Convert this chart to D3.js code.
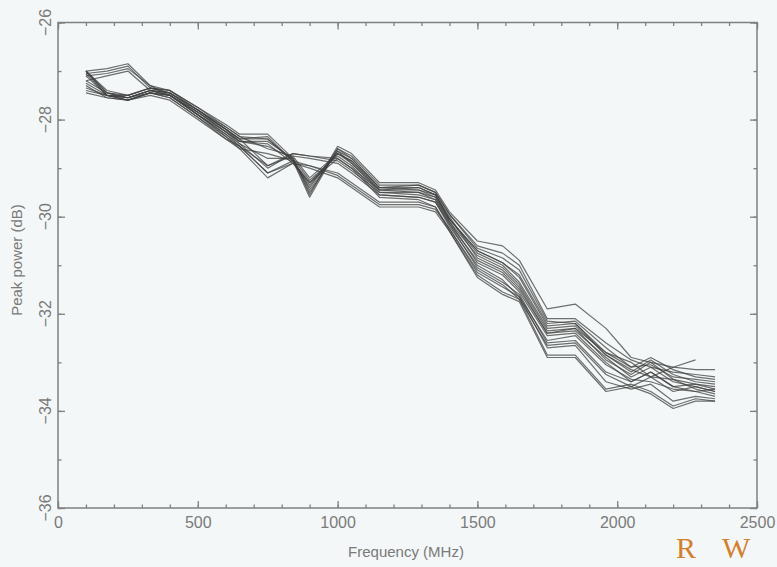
<!DOCTYPE html>
<html>
<head>
<meta charset="utf-8">
<script src="https://cdn.jsdelivr.net/npm/d3@7"></script>
<style>
  html, body { margin: 0; padding: 0; background: #f3f7f7; }
  svg { display: block; }
</style>
</head>
<body>
<svg id="chart" width="777" height="567"></svg>
<script>
// ---- Data ----
const frequencies = [100,175,250,330,400,500,600,650,750,840,900,1000,1050,1150,1290,1350,1400,1500,1590,1650,1750,1850,1960,2050,2120,2200,2280,2350];

const s1  = [-27.00,-26.95,-26.85,-27.30,-27.40,-27.75,-28.10,-28.30,-28.30,-28.80,-29.55,-28.55,-28.70,-29.30,-29.30,-29.45,-29.90,-30.50,-30.60,-30.90,-31.90,-31.80,-32.30,-32.90,-33.00,-33.10,-33.15,-33.15];
const s2  = [-27.05,-27.00,-26.90,-27.35,-27.45,-27.80,-28.15,-28.35,-28.40,-28.85,-29.40,-28.60,-28.75,-29.35,-29.35,-29.50,-29.95,-30.60,-30.75,-31.00,-32.10,-32.10,-32.60,-32.95,-33.10,-33.20,-33.25,-33.30];
const s3  = [-27.10,-27.05,-26.95,-27.30,-27.50,-27.85,-28.20,-28.40,-28.95,-28.70,-28.75,-28.80,-29.00,-29.45,-29.40,-29.55,-30.05,-30.70,-30.95,-31.25,-32.25,-32.20,-32.80,-33.10,-33.05,-33.30,-33.35,-33.40];
const s4  = [-27.20,-27.10,-27.00,-27.40,-27.50,-27.90,-28.25,-28.45,-28.50,-28.90,-29.30,-28.70,-28.85,-29.45,-29.50,-29.60,-30.10,-30.80,-31.05,-31.40,-32.35,-32.30,-32.95,-33.25,-33.00,-33.35,-33.45,-33.50];
const s5  = [-27.00,-27.45,-27.55,-27.40,-27.45,-27.80,-28.20,-28.40,-28.35,-28.85,-29.60,-28.60,-28.80,-29.40,-29.45,-29.55,-30.00,-30.85,-31.10,-31.45,-32.40,-32.35,-32.90,-33.30,-33.10,-33.40,-33.50,-33.60];
const s6  = [-27.00,-27.50,-27.60,-27.45,-27.50,-27.85,-28.25,-28.45,-28.45,-28.80,-29.50,-28.65,-28.90,-29.50,-29.55,-29.65,-30.10,-30.95,-31.20,-31.55,-32.45,-32.40,-33.00,-33.40,-33.20,-33.50,-33.45,-33.55];
const s7  = [-27.05,-27.50,-27.55,-27.40,-27.50,-27.90,-28.30,-28.50,-29.00,-28.70,-28.75,-28.85,-29.05,-29.50,-29.50,-29.65,-30.15,-30.90,-31.15,-31.50,-32.40,-32.30,-32.80,-33.00,-33.30,-33.35,-33.55,-33.65];
const s8  = [-27.10,-27.50,-27.60,-27.45,-27.55,-27.95,-28.35,-28.55,-28.95,-28.75,-28.80,-28.90,-29.10,-29.55,-29.60,-29.70,-30.20,-31.00,-31.30,-31.65,-32.55,-32.45,-33.05,-33.35,-33.40,-33.55,-33.60,-33.70];
const s9  = [-27.00,-27.45,-27.50,-27.35,-27.45,-27.80,-28.20,-28.40,-28.40,-28.85,-29.35,-28.70,-28.85,-29.40,-29.40,-29.55,-30.05,-30.75,-31.00,-31.35,-32.30,-32.25,-32.85,-33.20,-32.95,-33.25,-33.40,-33.45];
const s10 = [-27.25,-27.50,-27.55,-27.40,-27.50,-27.90,-28.35,-28.60,-29.20,-28.90,-29.00,-29.20,-29.40,-29.80,-29.80,-29.90,-30.30,-31.20,-31.55,-31.70,-32.85,-32.85,-33.55,-33.45,-33.60,-33.90,-33.75,-33.80];
const s11 = [-27.30,-27.55,-27.60,-27.45,-27.50,-27.90,-28.30,-28.55,-29.10,-28.85,-28.95,-29.15,-29.35,-29.75,-29.75,-29.85,-30.25,-31.15,-31.45,-31.65,-32.70,-32.65,-33.40,-33.55,-33.45,-33.80,-33.70,-33.75];
const s12 = [-27.35,-27.50,-27.55,-27.40,-27.45,-27.85,-28.25,-28.50,-28.80,-28.80,-29.25,-28.75,-28.95,-29.55,-29.60,-29.70,-30.15,-31.05,-31.35,-31.60,-32.60,-32.55,-33.20,-33.40,-33.20,-33.50,-33.60,-33.55];
const s13 = [-27.40,-27.50,-27.50,-27.35,-27.40,-27.75,-28.15,-28.35,-28.60,-28.75,-29.20,-28.70,-28.90,-29.45,-29.45,-29.60,-30.05,-30.70,-30.95,-31.20,-32.20,-32.15,-32.70,-33.10,-32.90,-33.15,-33.30,-33.35];
const s14 = [-27.00,-27.40,-27.50,-27.35,-27.40,-27.80,-28.20,-28.45,-28.55,-28.80,-29.45,-28.65,-28.80,-29.40,-29.35,-29.50,-29.95,-30.65,-30.85,-31.10,-32.15,-32.20,-32.85,-33.15,-33.30,-33.10,-32.95,null];
const s15 = [-27.20,-27.45,-27.55,-27.45,-27.55,-27.95,-28.40,-28.60,-28.70,-28.85,-29.30,-28.80,-29.00,-29.60,-29.65,-29.80,-30.25,-31.10,-31.40,-31.70,-32.65,-32.60,-33.25,-33.50,-33.30,-33.60,-33.50,-33.60];
const s16 = [-27.45,-27.55,-27.60,-27.50,-27.60,-28.00,-28.40,-28.55,-29.10,-28.90,-28.95,-29.10,-29.30,-29.70,-29.70,-29.80,-30.30,-31.25,-31.60,-31.75,-32.90,-32.90,-33.60,-33.50,-33.65,-33.95,-33.80,-33.80];

const seriesList = [s1,s2,s3,s4,s5,s6,s7,s8,s9,s10,s11,s12,s13,s14,s15,s16];

const xMajorTicks = [0,500,1000,1500,2000,2500];
const xMinorTicks = d3.range(0, 2501, 100);
const yMajorTicks = [-36,-34,-32,-30,-28,-26];
const yMinorTicks = d3.range(-36, -25, 1);

// ---- Layout ----
const svg = d3.select("#chart");
const pLeft = 58, pRight = 757, pTop = 22.5, pBottom = 508;

const x = d3.scaleLinear().domain([0, 2500]).range([pLeft, pRight]);
const y = d3.scaleLinear().domain([-36, -26]).range([pBottom, pTop]);

const axisColor = "#808080";
const textColor = "#7a7a7a";
const fontFam = "'Liberation Sans', Arial, Helvetica, sans-serif";

svg.append("rect").attr("width", 777).attr("height", 567).attr("fill", "#f3f7f7");

const defs = svg.append("defs");
defs.append("filter").attr("id", "soft")
  .attr("x", "-5%").attr("y", "-5%").attr("width", "110%").attr("height", "110%")
  .append("feGaussianBlur").attr("stdDeviation", 0.45);

function styleAxis(g) {
  g.selectAll("path.domain").remove();
  g.selectAll("line").attr("stroke", axisColor).attr("stroke-width", 1.3);
  g.selectAll("text").attr("fill", textColor).attr("font-family", fontFam).attr("font-size", 16);
}

// minor ticks on all four sides
svg.append("g").attr("transform", `translate(0,${pBottom})`)
  .call(d3.axisBottom(x).tickValues(xMinorTicks).tickSize(-3.5).tickFormat("")).call(styleAxis);
svg.append("g").attr("transform", `translate(0,${pTop})`)
  .call(d3.axisTop(x).tickValues(xMinorTicks).tickSize(-3.5).tickFormat("")).call(styleAxis);
svg.append("g").attr("transform", `translate(${pLeft},0)`)
  .call(d3.axisLeft(y).tickValues(yMinorTicks).tickSize(-3.5).tickFormat("")).call(styleAxis);
svg.append("g").attr("transform", `translate(${pRight},0)`)
  .call(d3.axisRight(y).tickValues(yMinorTicks).tickSize(-3.5).tickFormat("")).call(styleAxis);

// major ticks
svg.append("g").attr("transform", `translate(0,${pBottom})`)
  .call(d3.axisBottom(x).tickValues(xMajorTicks).tickSize(-7).tickPadding(9).tickFormat(d3.format("d"))).call(styleAxis);
svg.append("g").attr("transform", `translate(0,${pTop})`)
  .call(d3.axisTop(x).tickValues(xMajorTicks).tickSize(-7).tickFormat("")).call(styleAxis);
svg.append("g").attr("transform", `translate(${pLeft},0)`)
  .call(d3.axisLeft(y).tickValues(yMajorTicks).tickSize(-7).tickFormat("")).call(styleAxis);
svg.append("g").attr("transform", `translate(${pRight},0)`)
  .call(d3.axisRight(y).tickValues(yMajorTicks).tickSize(-7).tickFormat("")).call(styleAxis);

// rotated y tick labels
const yFmt = d3.format("d");
svg.append("g").selectAll("text").data(yMajorTicks).join("text")
  .attr("transform", d => `translate(45,${y(d)}) rotate(-90)`)
  .attr("text-anchor", "middle")
  .attr("dy", "0.36em")
  .attr("fill", textColor).attr("font-family", fontFam).attr("font-size", 16)
  .text(d => yFmt(d));

// frame
svg.append("rect")
  .attr("x", pLeft).attr("y", pTop)
  .attr("width", pRight - pLeft).attr("height", pBottom - pTop)
  .attr("fill", "none").attr("stroke", axisColor).attr("stroke-width", 1.5);

// lines
const line = d3.line()
  .defined(d => d != null)
  .x((d, i) => x(frequencies[i]))
  .y(d => y(d));

svg.append("g").attr("filter", "url(#soft)")
  .selectAll("path").data(seriesList).join("path")
  .attr("d", d => line(d))
  .attr("fill", "none")
  .attr("stroke", "#404040")
  .attr("stroke-opacity", 0.75)
  .attr("stroke-width", 1.2)
  .attr("stroke-linejoin", "round");

// axis titles
svg.append("text")
  .attr("x", 406).attr("y", 557)
  .attr("text-anchor", "middle")
  .attr("fill", textColor).attr("font-family", fontFam).attr("font-size", 15)
  .text("Frequency (MHz)");

svg.append("text")
  .attr("transform", "translate(22,260) rotate(-90)")
  .attr("text-anchor", "middle")
  .attr("fill", textColor).attr("font-family", fontFam).attr("font-size", 15)
  .text("Peak power (dB)");

// logo letters
const logoColor = "#d3802c";
const serif = "'Liberation Serif', 'DejaVu Serif', serif";
svg.append("text").attr("x", 676).attr("y", 558)
  .attr("fill", logoColor).attr("font-family", serif).attr("font-size", 30)
  .text("R");
svg.append("text").attr("x", 722).attr("y", 558)
  .attr("fill", logoColor).attr("font-family", serif).attr("font-size", 30)
  .text("W");
</script>
</body>
</html>
